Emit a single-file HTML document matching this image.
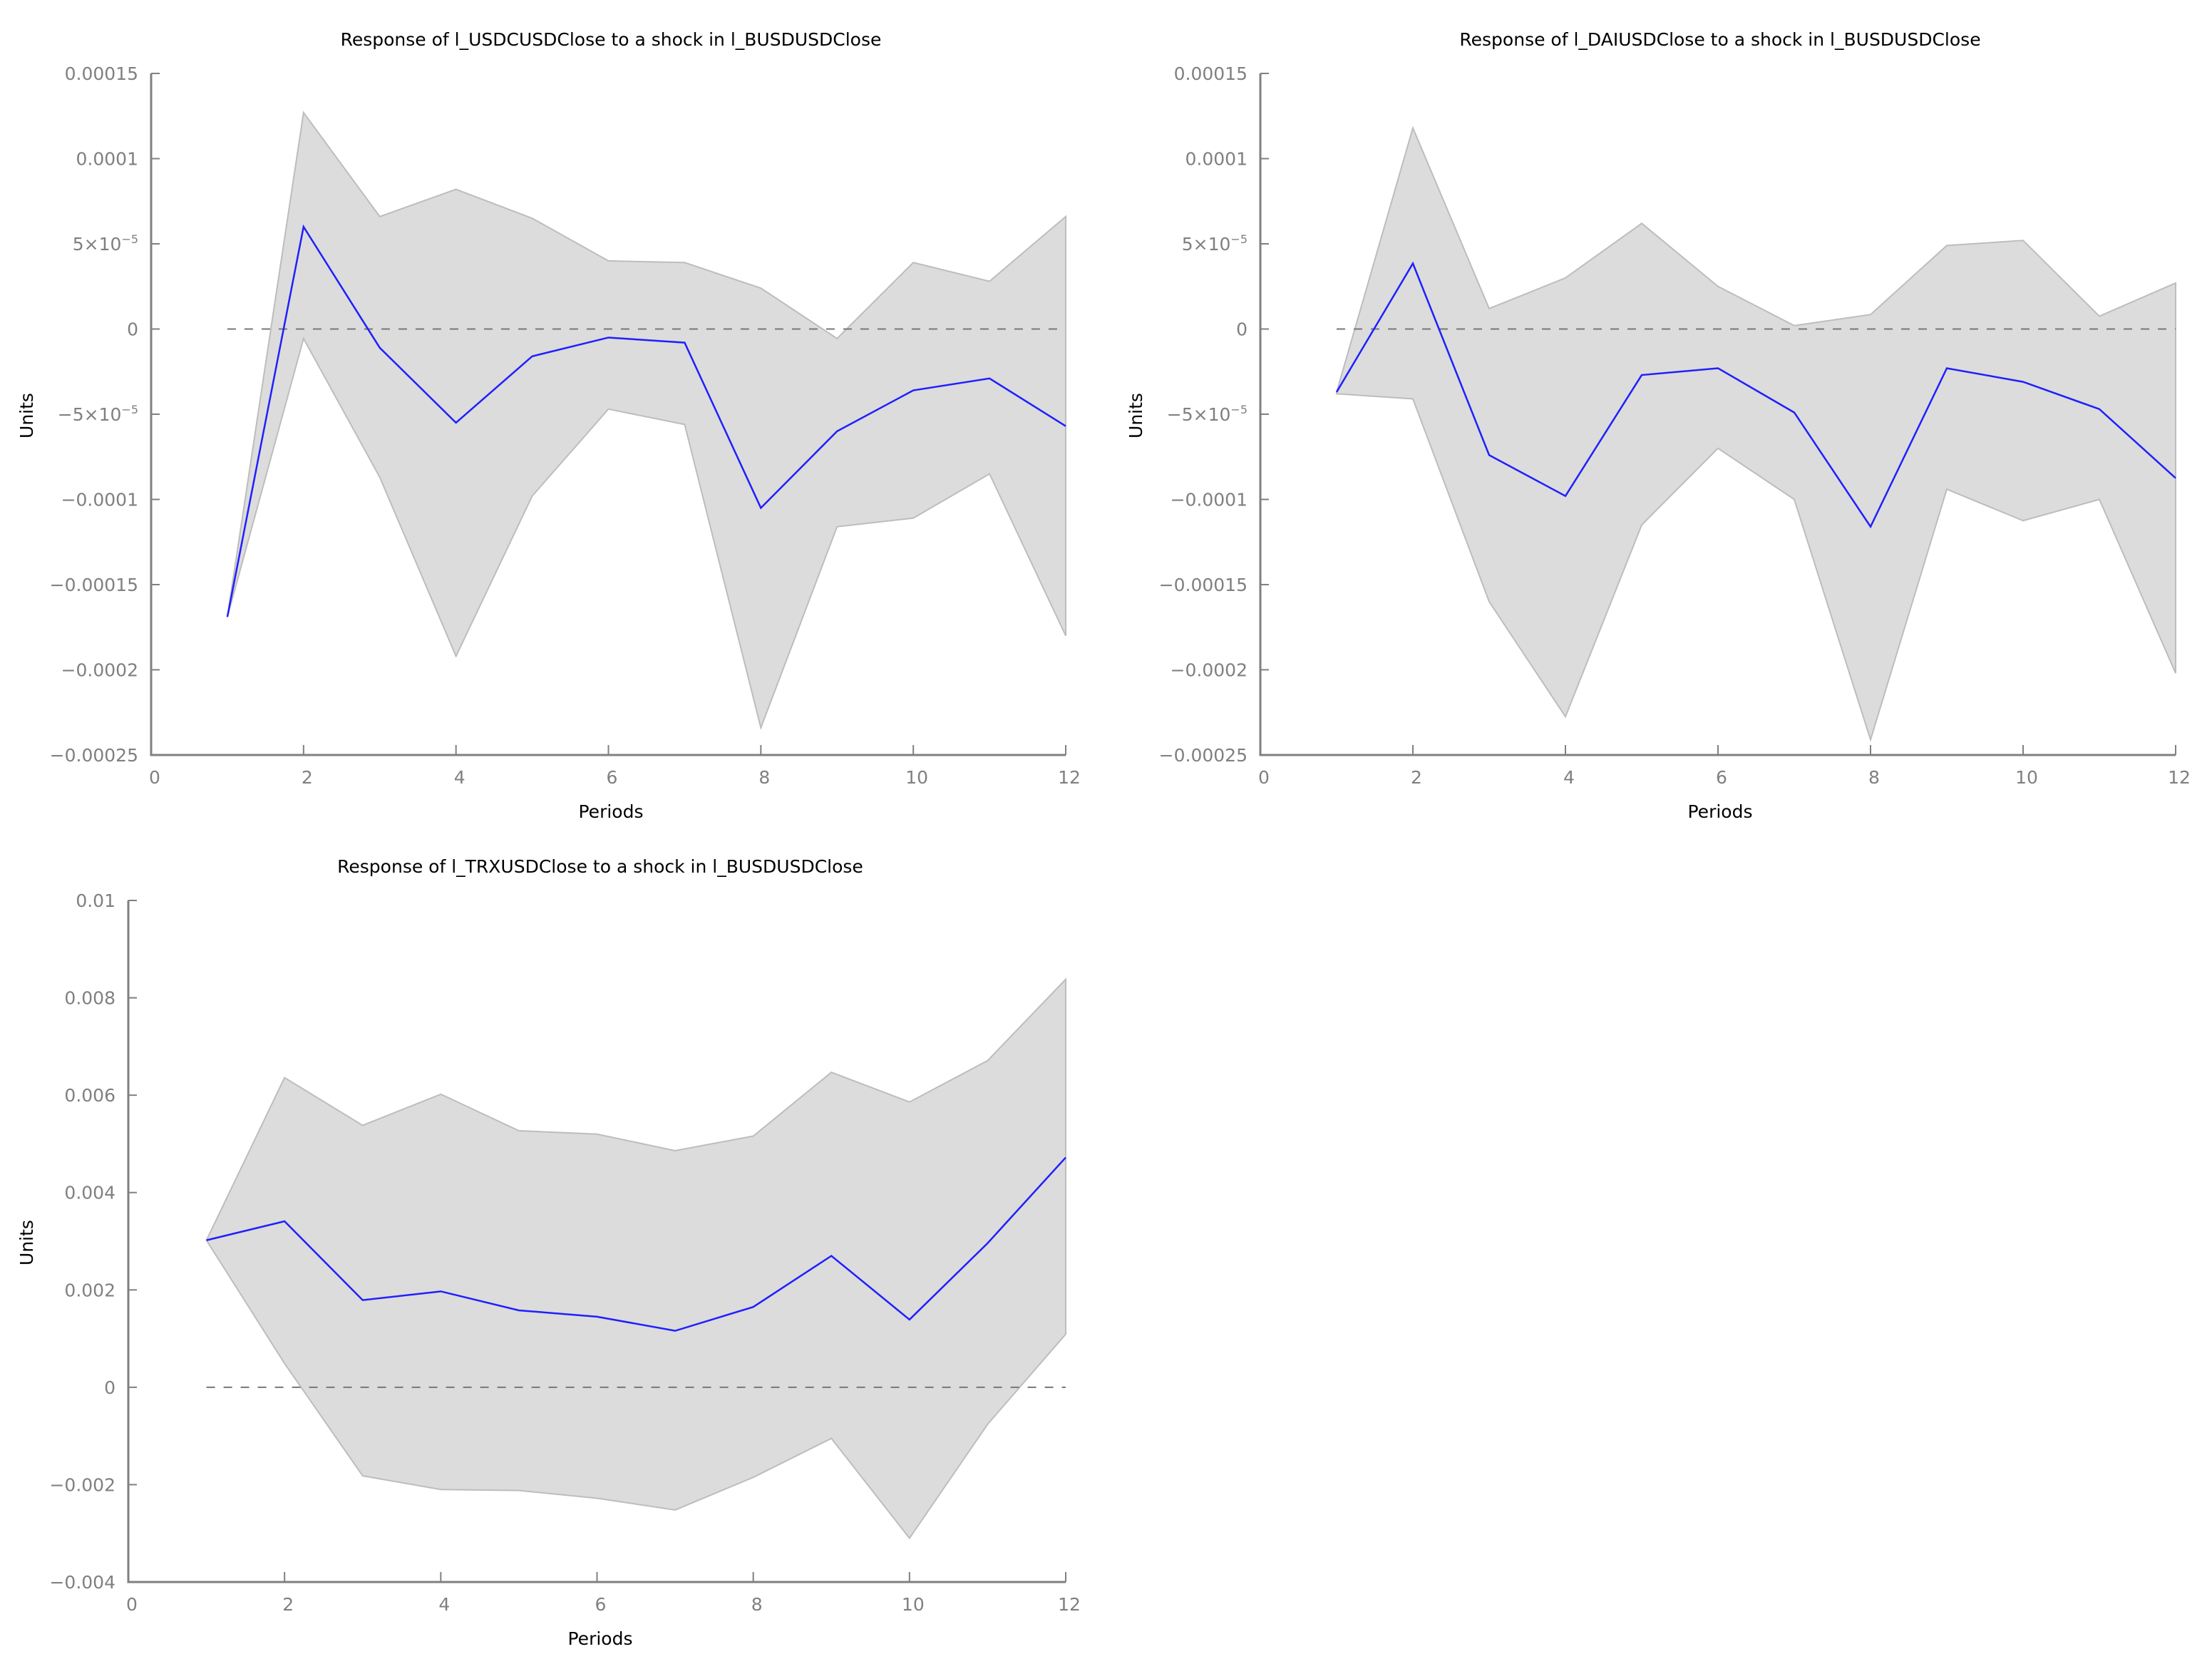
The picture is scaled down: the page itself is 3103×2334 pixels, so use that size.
<!DOCTYPE html>
<html><head><meta charset="utf-8"><style>
html,body{margin:0;padding:0;background:#fff;}
svg{display:block;font-family:"DejaVu Sans","Liberation Sans",sans-serif;}
</style></head><body>
<svg id="root" width="3103" height="2334" viewBox="0 0 3103 2334" xmlns="http://www.w3.org/2000/svg"></svg>
<script>
const periods = [1,2,3,4,5,6,7,8,9,10,11,12];
// Chart 1 (units of 1e-5)
const usdcMid   = [-16.9,6.0,-1.1,-5.5,-1.6,-0.5,-0.8,-10.5,-6.0,-3.6,-2.9,-5.7];
const usdcUpper = [-16.9,12.7,6.6,8.2,6.5,4.0,3.9,2.4,-0.56,3.9,2.8,6.6];
const usdcLower = [-16.9,-0.56,-8.7,-19.2,-9.8,-4.7,-5.6,-23.4,-11.6,-11.1,-8.5,-18.0];
// Chart 2 (units of 1e-5)
const daiMid   = [-3.7,3.85,-7.4,-9.8,-2.7,-2.3,-4.9,-11.6,-2.3,-3.1,-4.7,-8.75];
const daiUpper = [-3.7,11.8,1.2,3.0,6.2,2.5,0.2,0.85,4.9,5.2,0.75,2.7];
const daiLower = [-3.8,-4.1,-16.0,-22.75,-11.5,-7.0,-10.0,-24.1,-9.4,-11.25,-10.0,-20.2];
// Chart 3 (units of 1e-3)
const trxMid   = [3.02,3.41,1.79,1.97,1.58,1.45,1.16,1.65,2.70,1.39,2.96,4.72];
const trxUpper = [3.02,6.36,5.38,6.02,5.27,5.20,4.86,5.16,6.47,5.86,6.71,8.38];
const trxLower = [3.02,0.49,-1.82,-2.10,-2.12,-2.28,-2.52,-1.85,-1.05,-3.10,-0.76,1.09];
const xTicks = [0,2,4,6,8,10,12];
const smallTicks = [15,10,5,0,-5,-10,-15,-20,-25];
const smallTickLabels = ["0.00015","0.0001","5×10|−5","0","−5×10|−5","−0.0001","−0.00015","−0.0002","−0.00025"];
const trxTicks = [10,8,6,4,2,0,-2,-4];
const trxTickLabels = ["0.01","0.008","0.006","0.004","0.002","0","−0.002","−0.004"];

const NS="http://www.w3.org/2000/svg";
const root=document.getElementById('root');
function mk(tag,parent){const e=document.createElementNS(NS,tag);parent.appendChild(e);return e;}

function drawChart(g,cfg,mid,upper,lower,yTicks,yLabels){
  const sx=v=>cfg.x0+(v-0)/(12-0)*(cfg.x1-cfg.x0);
  const sy=v=>cfg.yb+(v-cfg.ymin)/(cfg.ymax-cfg.ymin)*(cfg.yt-cfg.yb);
  let pts=[];
  periods.forEach((p,i)=>pts.push(sx(p)+','+sy(upper[i])));
  for(let i=periods.length-1;i>=0;i--)pts.push(sx(periods[i])+','+sy(lower[i]));
  const band=mk('polygon',g);
  
  
  band.setAttribute('points',pts.join(' '));
  band.setAttribute('fill','#dcdcdc');band.setAttribute('stroke','#bdbdbd');band.setAttribute('stroke-width','2');
  const z=mk('line',g);
  
  
  z.setAttribute('x1',sx(1));z.setAttribute('x2',sx(12));z.setAttribute('y1',sy(0));z.setAttribute('y2',sy(0));
  z.setAttribute('stroke','#777');z.setAttribute('stroke-width','2');z.setAttribute('stroke-dasharray','12,12');
  const l=mk('polyline',g);
  
  
  l.setAttribute('points',periods.map((p,i)=>sx(p)+','+sy(mid[i])).join(' '));
  l.setAttribute('fill','none');l.setAttribute('stroke','#1f1fff');l.setAttribute('stroke-width','2.5');
  const ax=mk('path',g);
  
  
  ax.setAttribute('d',`M${cfg.x0},${cfg.yt} L${cfg.x0},${cfg.yb} L${cfg.x1},${cfg.yb}`);
  ax.setAttribute('fill','none');ax.setAttribute('stroke','#808080');ax.setAttribute('stroke-width','3');
  yTicks.forEach((t,i)=>{
    const y=sy(t);
    const tk=mk('line',g);
    
    
    tk.setAttribute('x1',cfg.x0);tk.setAttribute('x2',cfg.x0+12);tk.setAttribute('y1',y);tk.setAttribute('y2',y);
    tk.setAttribute('stroke','#808080');tk.setAttribute('stroke-width','2');
    const tx=mk('text',g);
    
    
    tx.setAttribute('x',cfg.x0-18);tx.setAttribute('y',y+9);tx.setAttribute('text-anchor','end');
    tx.setAttribute('font-size','25');tx.setAttribute('fill','#808080');
    const parts=yLabels[i].split('|');
    tx.textContent=parts[0];
    if(parts[1]){const s=mk('tspan',tx);s.setAttribute('dy','-10');s.setAttribute('font-size','16');s.textContent=parts[1];}
  });
  xTicks.forEach(t=>{
    const x=sx(t);
    const tk=mk('line',g);
    
    
    tk.setAttribute('x1',x);tk.setAttribute('x2',x);tk.setAttribute('y1',cfg.yb);tk.setAttribute('y2',cfg.yb-14);
    tk.setAttribute('stroke','#808080');tk.setAttribute('stroke-width','2');
    const tx=mk('text',g);
    
    
    tx.setAttribute('x',x+5);tx.setAttribute('y',cfg.yb+40);tx.setAttribute('text-anchor','middle');
    tx.setAttribute('font-size','25');tx.setAttribute('fill','#808080');tx.textContent=t;
  });
  const ti=mk('text',g);
  
  
  ti.setAttribute('x',cfg.tx);ti.setAttribute('y',cfg.ty);ti.setAttribute('text-anchor','middle');
  ti.setAttribute('font-size','25');ti.setAttribute('fill','#000');ti.textContent=cfg.title;
  const xl=mk('text',g);
  
  
  xl.setAttribute('x',cfg.tx);xl.setAttribute('y',cfg.yb+88);xl.setAttribute('text-anchor','middle');
  xl.setAttribute('font-size','25');xl.setAttribute('fill','#000');xl.textContent='Periods';
  const cy=(cfg.yt+cfg.yb)/2+2;
  const yl=mk('text',g);
  
  
  yl.setAttribute('x',cfg.ux);yl.setAttribute('y',cy);yl.setAttribute('text-anchor','middle');
  yl.setAttribute('transform',`rotate(-90 ${cfg.ux} ${cy})`);
  yl.setAttribute('font-size','25');yl.setAttribute('fill','#000');yl.textContent='Units';
}

const g1=mk('g',root);


drawChart(g1,{x0:212,x1:1495,yt:103,yb:1059,ymin:-25,ymax:15,tx:857,ty:64,ux:46,title:'Response of l_USDCUSDClose to a shock in l_BUSDUSDClose'},usdcMid,usdcUpper,usdcLower,smallTicks,smallTickLabels);

const g2=mk('g',root);


drawChart(g2,{x0:1768,x1:3052,yt:103,yb:1059,ymin:-25,ymax:15,tx:2413,ty:64,ux:1602,title:'Response of l_DAIUSDClose to a shock in l_BUSDUSDClose'},daiMid,daiUpper,daiLower,smallTicks,smallTickLabels);

const g3=mk('g',root);


drawChart(g3,{x0:180,x1:1495,yt:1263,yb:2219,ymin:-4,ymax:10,tx:842,ty:1224,ux:46,title:'Response of l_TRXUSDClose to a shock in l_BUSDUSDClose'},trxMid,trxUpper,trxLower,trxTicks,trxTickLabels);
</script>
</body></html>
